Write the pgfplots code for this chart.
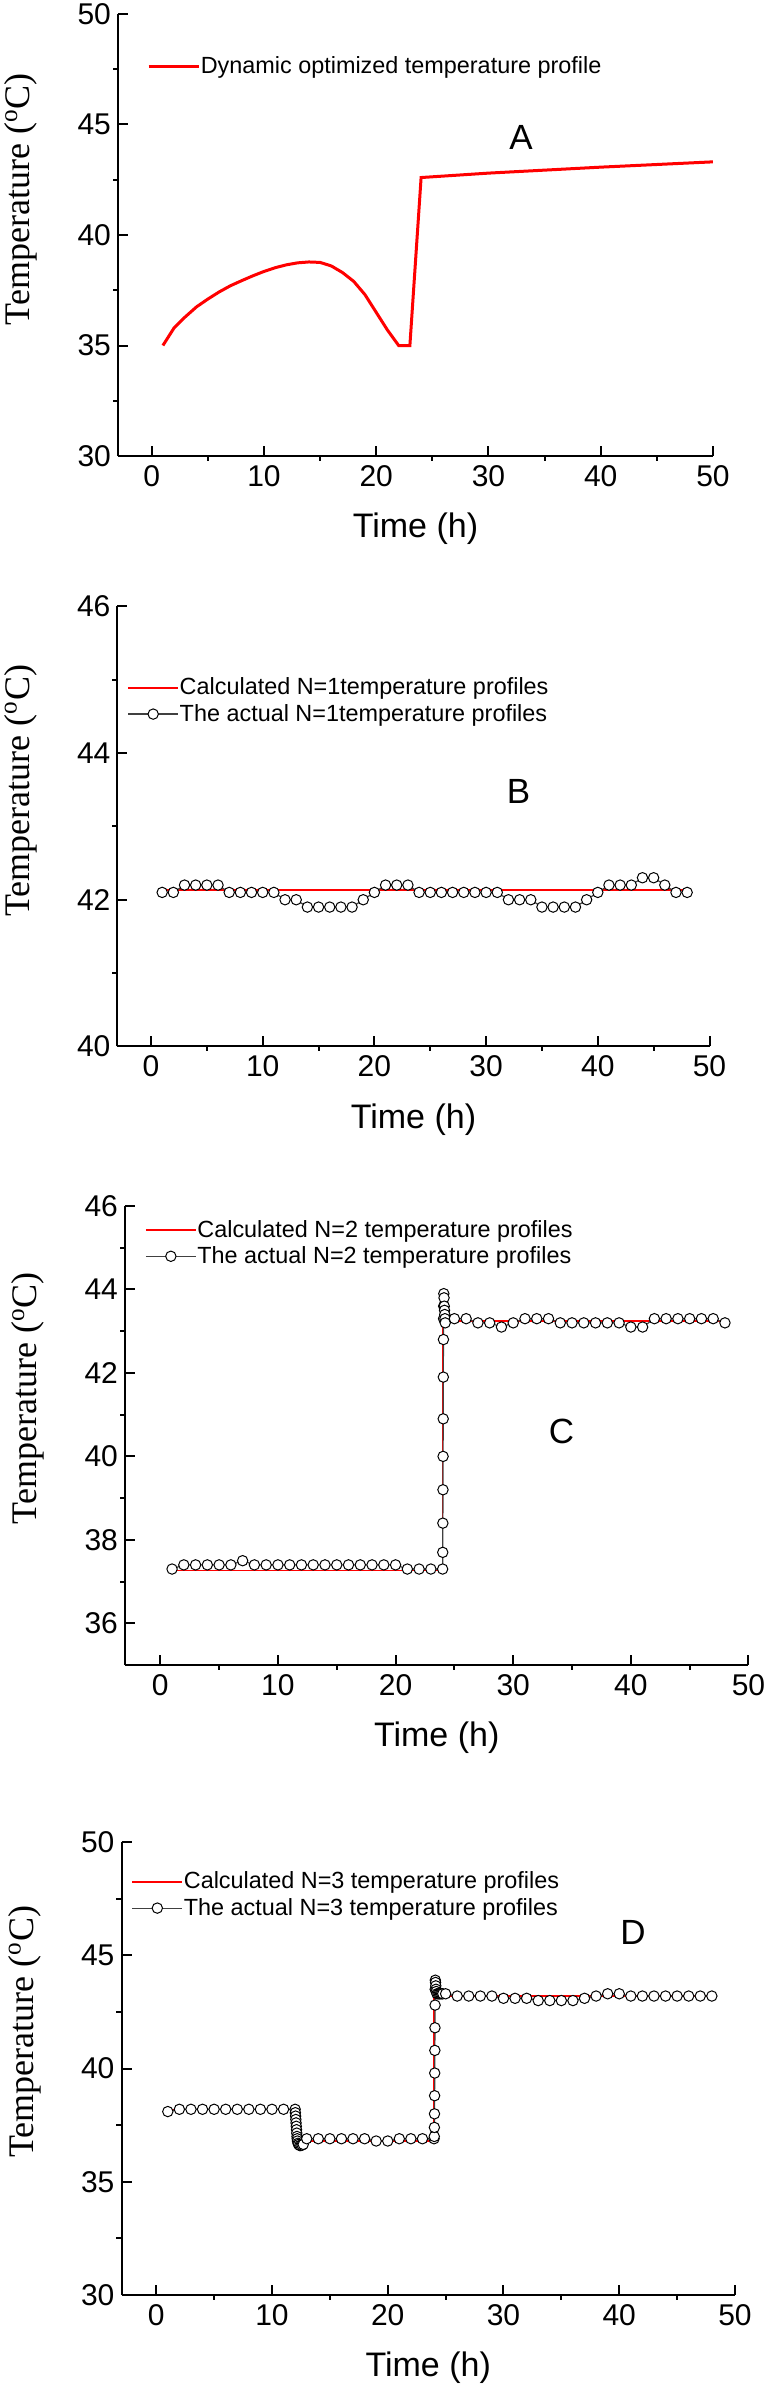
\documentclass[border=0pt]{standalone}
\usepackage{fontspec}
\setmainfont{Liberation Sans}
\newfontfamily\timesfont{Liberation Serif}
\usepackage{pgfplots}
\pgfplotsset{compat=1.18}
\tikzset{letter/.style={font=\fontsize{17.5}{17.5}\selectfont}}

\pgfplotsset{
  panel/.style={
    scale only axis,
    axis x line*=bottom, axis y line*=left,
    axis line style={line width=1pt, -},
    xmin=-3, xmax=50,
    xtick={0,10,...,50}, minor xtick={5,15,...,45},
    tick align=inside,
    major tick length=5pt, minor tick length=-2.5pt,
    every tick/.style={line width=1pt, black},
    tick label style={font=\fontsize{15}{15}\selectfont},
    /pgf/number format/assume math mode=true,
    xticklabel style={yshift=-1pt},
    xlabel={Time (h)},
    ylabel={Temperature (\textsuperscript{o}C)},
    xlabel style={at={([yshift=-36.5pt]axis description cs:0.5,0)}, anchor=center, font=\fontsize{17}{17}\selectfont},
    ylabel style={at={([xshift=-48.5pt]axis description cs:0,0.581)}, anchor=center, font=\timesfont\fontsize{18}{18}\selectfont},
    legend cell align=left,
    legend style={draw=none, fill=none, anchor=west, font=\fontsize{11.7}{13}\selectfont, row sep=0.6pt, column sep=0pt,
      nodes={inner xsep=0.4pt, inner ysep=1.25pt}},
    legend image code/.code={\draw[#1] (0pt,0pt) -- (25pt,0pt);},
  },
  actual/.style={black!75, line width=0.6pt, mark=*, mark size=2.6pt,
    mark options={fill=white, draw=black, line width=0.5pt, solid},
    legend image code/.code={\draw[mark repeat=2, mark phase=2, ##1] plot coordinates {(0pt,0pt) (12.5pt,0pt) (25pt,0pt)};}},
  calc/.style={red, line width=0.75pt},
}

\begin{document}
\begin{tikzpicture}
% ---------------- A ----------------
\begin{axis}[panel, at={(59pt,-228pt)}, anchor=south west,
  width=297.5pt, height=221pt,
  ymin=30, ymax=50, ytick={30,35,...,50}, minor ytick={32.5,37.5,42.5,47.5},
  legend style={at={(0.038,0.882)}}]
\addplot[red, line width=1.5pt] coordinates {
(1,35.0) (2,35.8) (3,36.3) (4,36.75) (5,37.1) (6,37.42) (7,37.7) (8,37.93)
(9,38.15) (10,38.35) (11,38.52) (12,38.65) (13,38.74) (14,38.78) (15,38.76)
(16,38.6) (17,38.3) (18,37.9) (19,37.3) (20,36.5) (21,35.7) (22,35.0) (23,35.0)
(24,42.6) (30,42.8) (40,43.07) (50,43.31)};
\addlegendentry{Dynamic optimized temperature profile}
\node[letter] at (axis cs:32.9,44.4) {A};
\end{axis}

% ---------------- B ----------------
\begin{axis}[panel, at={(58.75pt,-523.2pt)}, anchor=south west,
  width=296pt, height=220pt,
  ymin=40, ymax=46, ytick={40,42,44,46}, minor ytick={41,43,45},
  legend style={at={(0.006,0.785)}}]
\addplot[calc] coordinates {(1,42.13) (48,42.13)};
\addlegendentry{Calculated N=1temperature profiles}
\addplot[actual] coordinates {
(1,42.1) (2,42.1) (3,42.2) (4,42.2) (5,42.2) (6,42.2) (7,42.1) (8,42.1)
(9,42.1) (10,42.1) (11,42.1) (12,42.0) (13,42.0) (14,41.9) (15,41.9) (16,41.9)
(17,41.9) (18,41.9) (19,42.0) (20,42.1) (21,42.2) (22,42.2) (23,42.2) (24,42.1)
(25,42.1) (26,42.1) (27,42.1) (28,42.1) (29,42.1) (30,42.1) (31,42.1) (32,42.0)
(33,42.0) (34,42.0) (35,41.9) (36,41.9) (37,41.9) (38,41.9) (39,42.0) (40,42.1)
(41,42.2) (42,42.2) (43,42.2) (44,42.3) (45,42.3) (46,42.2) (47,42.1) (48,42.1)};
\addlegendentry{The actual N=1temperature profiles}
\node[letter] at (axis cs:32.9,43.48) {B};
\end{axis}

% ---------------- C ----------------
\begin{axis}[panel, at={(62.5pt,-832.5pt)}, anchor=south west,
  width=311.75pt, height=229.5pt,
  ymin=35, ymax=46, ytick={36,38,...,46}, minor ytick={37,39,...,45},
  legend style={at={(0.022,0.919)}}]
\addplot[calc] coordinates {(1,37.27) (24,37.27) (24,43.25) (48,43.25)};
\addlegendentry{Calculated N=2 temperature profiles}
\addplot[actual] coordinates {
(1,37.3) (2,37.4) (3,37.4) (4,37.4) (5,37.4) (6,37.4) (7,37.5) (8,37.4)
(9,37.4) (10,37.4) (11,37.4) (12,37.4) (13,37.4) (14,37.4) (15,37.4) (16,37.4)
(17,37.4) (18,37.4) (19,37.4) (20,37.4) (21,37.3) (22,37.3) (23,37.3) (24,37.3)
(24.01,37.7) (24.02,38.4) (24.03,39.2) (24.04,40.0) (24.05,40.9) (24.06,41.9)
(24.07,42.8) (24.08,43.3) (24.09,43.6) (24.1,43.9) (24.12,43.8) (24.14,43.6)
(24.16,43.5) (24.18,43.4) (24.2,43.3) (24.22,43.2)
(25,43.3) (26,43.3) (27,43.2) (28,43.2) (29,43.1) (30,43.2) (31,43.3) (32,43.3)
(33,43.3) (34,43.2) (35,43.2) (36,43.2) (37,43.2) (38,43.2) (39,43.2) (40,43.1)
(41,43.1) (42,43.3) (43,43.3) (44,43.3) (45,43.3) (46,43.3) (47,43.3) (48,43.2)};
\addlegendentry{The actual N=2 temperature profiles}
\node[letter] at (axis cs:34.1,40.6) {C};
\end{axis}

% ---------------- D ----------------
\begin{axis}[panel, at={(60.75pt,-1147.5pt)}, anchor=south west,
  width=306.75pt, height=226.5pt,
  ymin=30, ymax=50, ytick={30,35,...,50}, minor ytick={32.5,37.5,42.5,47.5},
  legend style={at={(0.006,0.883)}}]
\addplot[calc] coordinates {(1,38.2) (12.2,38.2) (12.2,36.8) (24,36.8) (24,43.2) (48,43.2)};
\addlegendentry{Calculated N=3 temperature profiles}
\addplot[actual] coordinates {
(1,38.1) (2,38.2) (3,38.2) (4,38.2) (5,38.2) (6,38.2) (7,38.2) (8,38.2)
(9,38.2) (10,38.2) (11,38.2) (12,38.2)
(12.02,38.05) (12.04,37.9) (12.06,37.75) (12.08,37.6) (12.1,37.45) (12.12,37.3)
(12.14,37.15) (12.16,37.0) (12.18,36.9) (12.2,36.8) (12.25,36.7) (12.3,36.65)
(12.4,36.6) (12.5,36.6) (12.6,36.62) (12.7,36.65)
(13,36.9) (14,36.9) (15,36.9) (16,36.9) (17,36.9) (18,36.9) (19,36.8) (20,36.8)
(21,36.9) (22,36.9) (23,36.9) (24,36.9)
(24.02,37.0) (24.03,37.4) (24.04,38.0) (24.05,38.8) (24.06,39.8) (24.07,40.8)
(24.08,41.8) (24.09,42.8) (24.1,43.5) (24.11,43.9) (24.13,43.8) (24.15,43.65)
(24.17,43.5) (24.19,43.4) (24.25,43.3) (24.35,43.3) (24.45,43.3) (24.55,43.3)
(24.65,43.3) (24.75,43.3)
(25,43.3) (26,43.2) (27,43.2) (28,43.2) (29,43.2) (30,43.1) (31,43.1) (32,43.1)
(33,43.0) (34,43.0) (35,43.0) (36,43.0) (37,43.1) (38,43.2) (39,43.3) (40,43.3)
(41,43.2) (42,43.2) (43,43.2) (44,43.2) (45,43.2) (46,43.2) (47,43.2) (48,43.2)};
\addlegendentry{The actual N=3 temperature profiles}
\node[letter] at (axis cs:41.2,46.0) {D};
\end{axis}

\pgfresetboundingbox
\useasboundingbox (0,0) rectangle (383.5pt,-1196pt);
\end{tikzpicture}
\end{document}
